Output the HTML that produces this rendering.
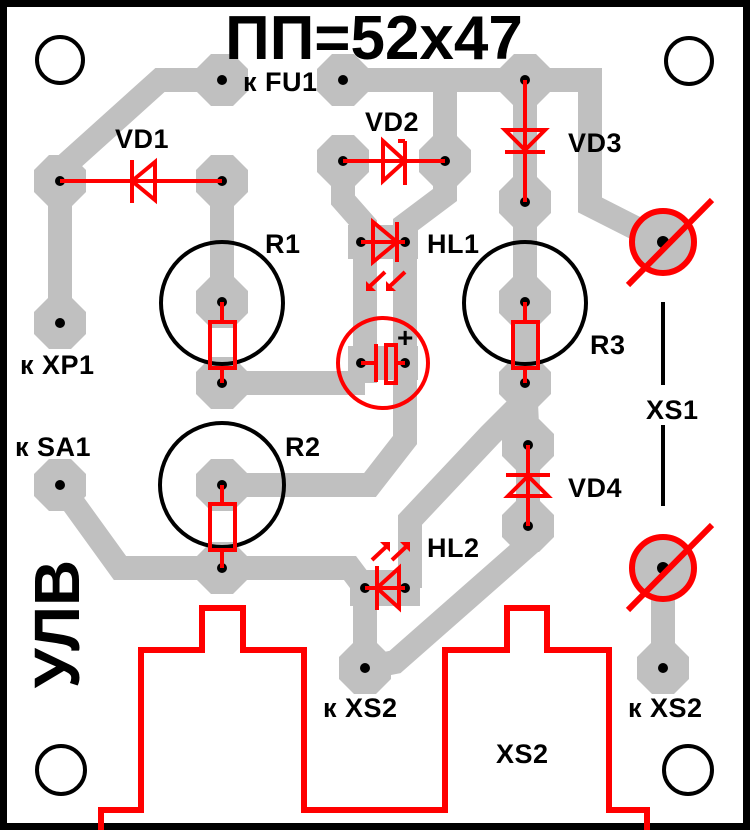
<!DOCTYPE html>
<html><head><meta charset="utf-8"><style>
html,body{margin:0;padding:0;background:#000}
svg{display:block}
text{font-family:"Liberation Sans",sans-serif;font-weight:bold;fill:#000}
</style></head><body>
<svg width="750" height="830" viewBox="0 0 750 830" xmlns="http://www.w3.org/2000/svg">
<defs>
<polygon id="p" points="-11,-26 11,-26 26,-11 26,11 11,26 -11,26 -26,11 -26,-11" fill="#c0c0c0"/>
</defs>
<rect x="0" y="0" width="750" height="830" fill="#000"/>
<rect x="7" y="7" width="736" height="816" fill="#fff"/>

<!-- traces -->
<g fill="none" stroke="#c0c0c0" stroke-width="24" stroke-linejoin="miter">
<polyline points="60,323 60,170 160,80 222,80"/>
<polyline points="222,181 222,302"/>
<polyline points="222,383 365,383"/>
<polyline points="343,80 590,80 590,205 663,242"/>
<polyline points="445,80 445,161"/>
<polyline points="343,161 343,200 365,225 365,383"/>
<polyline points="445,161 445,195 405,225 405,440 370,485 222,485"/>
<polyline points="525,80 525,383 528,445 528,526"/>
<polyline points="525,400 490,435 410,520 410,588"/>
<polyline points="528,526 528,545 395,662 365,668"/>
<polyline points="60,485 120,568 350,568 365,588 365,668"/>
<polyline points="663,568 663,668"/>
</g>

<!-- pads -->
<g>
<use href="#p" x="222" y="80"/><use href="#p" x="343" y="80"/><use href="#p" x="525" y="80"/>
<use href="#p" x="60" y="181"/><use href="#p" x="222" y="181"/><use href="#p" x="60" y="323"/>
<use href="#p" x="222" y="302"/><use href="#p" x="222" y="383"/>
<use href="#p" x="343" y="161"/><use href="#p" x="445" y="161"/>
<use href="#p" x="525" y="202"/><use href="#p" x="525" y="302"/><use href="#p" x="525" y="383"/>
<use href="#p" x="528" y="445"/><use href="#p" x="528" y="526"/>
<use href="#p" x="60" y="485"/><use href="#p" x="222" y="485"/><use href="#p" x="222" y="568"/>
<use href="#p" x="365" y="668"/><use href="#p" x="663" y="668"/>
</g>
<rect x="348" y="225" width="70" height="34" fill="#c0c0c0"/>
<rect x="348" y="346" width="70" height="34" fill="#c0c0c0"/>
<rect x="350" y="570" width="70" height="36" fill="#c0c0c0"/>
<circle cx="663" cy="242" r="33" fill="#c0c0c0"/>
<circle cx="663" cy="568" r="33" fill="#c0c0c0"/>

<!-- holes -->
<g fill="#000">
<circle cx="222" cy="80" r="5"/><circle cx="343" cy="80" r="5"/><circle cx="525" cy="80" r="5"/>
<circle cx="60" cy="181" r="5"/><circle cx="222" cy="181" r="5"/><circle cx="60" cy="323" r="5"/>
<circle cx="222" cy="302" r="5"/><circle cx="222" cy="383" r="5"/>
<circle cx="343" cy="161" r="5"/><circle cx="445" cy="161" r="5"/>
<circle cx="361" cy="242" r="5"/><circle cx="405" cy="242" r="5"/>
<circle cx="361" cy="363" r="5"/><circle cx="405" cy="363" r="5"/>
<circle cx="525" cy="202" r="5"/><circle cx="525" cy="302" r="5"/><circle cx="525" cy="383" r="5"/>
<circle cx="528" cy="445" r="5"/><circle cx="528" cy="526" r="5"/>
<circle cx="60" cy="485" r="5"/><circle cx="222" cy="485" r="5"/><circle cx="222" cy="568" r="5"/>
<circle cx="365" cy="588" r="5"/><circle cx="405" cy="588" r="5"/>
<circle cx="365" cy="668" r="5"/><circle cx="663" cy="668" r="5"/>
<circle cx="663" cy="242" r="6"/><circle cx="663" cy="568" r="6"/>
</g>

<!-- black outlines -->
<g fill="none" stroke="#000" stroke-width="4">
<circle cx="60" cy="60" r="23"/><circle cx="689" cy="61" r="23"/>
<circle cx="61" cy="770" r="24"/><circle cx="688" cy="770" r="24"/>
<circle cx="222" cy="303" r="61"/><circle cx="525" cy="303" r="61"/><circle cx="222" cy="485" r="62"/>
<line x1="663" y1="302" x2="663" y2="385"/><line x1="663" y1="425" x2="663" y2="506"/>
</g>

<!-- red components -->
<g fill="none" stroke="#f00" stroke-width="4">
<line x1="60" y1="181" x2="222" y2="181"/>
<polygon points="132,181 155,162 155,200"/><line x1="132" y1="160" x2="132" y2="203"/>
<line x1="343" y1="161" x2="445" y2="161"/>
<polygon points="405,161 383,141 383,181"/><line x1="405" y1="141" x2="405" y2="185"/><line x1="405" y1="141" x2="398" y2="141"/>
<line x1="361" y1="242" x2="405" y2="242"/>
<polygon points="397,242 373,222 373,262"/><line x1="397" y1="222" x2="397" y2="262"/>
<line x1="385" y1="272" x2="368" y2="288"/><line x1="405" y1="272" x2="388" y2="288"/>
<circle cx="383" cy="363" r="45"/>
<line x1="361" y1="363" x2="376" y2="363"/><line x1="376" y1="344" x2="376" y2="382"/>
<rect x="386" y="345" width="10" height="38"/><line x1="396" y1="363" x2="405" y2="363"/>
<line x1="525" y1="80" x2="525" y2="202"/>
<polygon points="525,150 505,130 545,130"/><line x1="505" y1="152" x2="545" y2="152"/>
<line x1="528" y1="445" x2="528" y2="526"/>
<polygon points="528,476 508,496 548,496"/><line x1="506" y1="475" x2="550" y2="475"/>
<line x1="365" y1="588" x2="405" y2="588"/>
<polygon points="377,588 399,568 399,608"/><line x1="377" y1="566" x2="377" y2="610"/>
<line x1="372" y1="560" x2="388" y2="545"/><line x1="392" y1="560" x2="408" y2="545"/>
<line x1="222" y1="302" x2="222" y2="322"/><rect x="210" y="322" width="25" height="46"/><line x1="222" y1="368" x2="222" y2="383"/>
<line x1="525" y1="302" x2="525" y2="322"/><rect x="513" y="322" width="25" height="46"/><line x1="525" y1="368" x2="525" y2="383"/>
<line x1="222" y1="485" x2="222" y2="504"/><rect x="210" y="504" width="25" height="46"/><line x1="222" y1="550" x2="222" y2="568"/>
</g>
<g fill="#f00">
<polygon points="366,291 366,281 376,291"/><polygon points="386,291 386,281 396,291"/>
<polygon points="390,542 380,542 390,552"/><polygon points="410,542 400,542 410,552"/>
</g>
<g fill="none" stroke="#f00" stroke-width="6">
<circle cx="663" cy="242" r="31"/><line x1="628" y1="285" x2="712" y2="200"/>
<circle cx="663" cy="568" r="31"/><line x1="628" y1="610" x2="712" y2="525"/>
<polyline points="101,830 101,810 141,810 141,650 202,650 202,608 243,608 243,650 304,650 304,810 445,810 445,650 507,650 507,608 547,608 547,650 609,650 609,810 647,810 647,830"/>
</g>
<text x="397" y="347" style="font-size:28px">+</text>

<!-- labels -->
<text x="374" y="59" text-anchor="middle" style="font-size:62px">ПП=52x47</text>
<g style="font-size:27px;letter-spacing:0.5px">
<text x="243" y="91">к FU1</text>
<text x="115" y="148">VD1</text>
<text x="365" y="131">VD2</text>
<text x="568" y="152">VD3</text>
<text x="265" y="253">R1</text>
<text x="427" y="253">HL1</text>
<text x="20" y="374">к XP1</text>
<text x="590" y="354">R3</text>
<text x="646" y="419">XS1</text>
<text x="15" y="456">к SA1</text>
<text x="285" y="456">R2</text>
<text x="568" y="497">VD4</text>
<text x="427" y="557">HL2</text>
<text x="323" y="717">к XS2</text>
<text x="628" y="717">к XS2</text>
<text x="496" y="763">XS2</text>
</g>
<text x="0" y="0" transform="translate(79,624) rotate(-90)" text-anchor="middle" style="font-size:64px">УЛВ</text>
</svg>
</body></html>
